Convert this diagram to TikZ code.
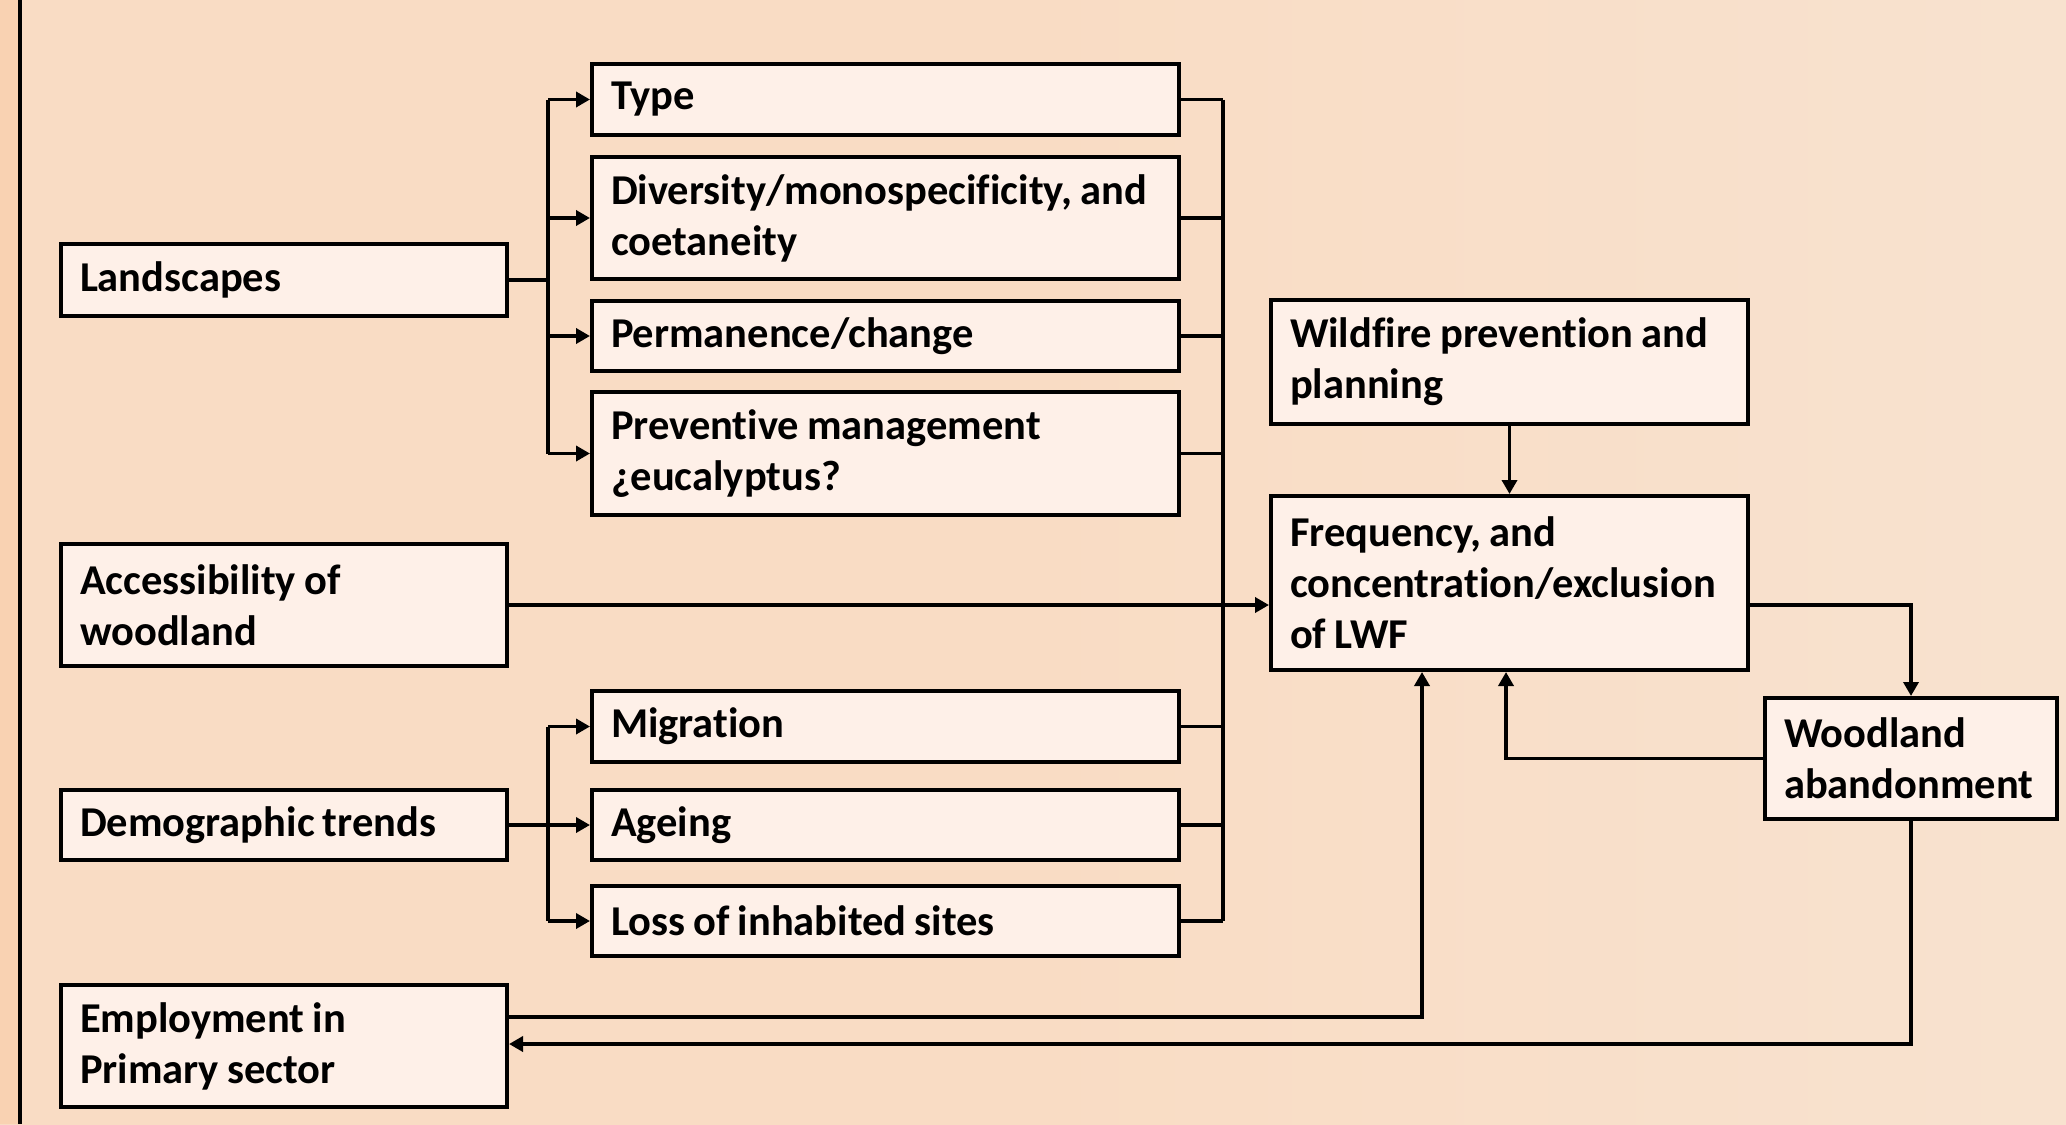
\documentclass[tikz,border=0pt]{standalone}
\usepackage{fontspec}
\setmainfont{Carlito}[Ligatures={NoCommon,NoRequired,NoContextual}]
\usetikzlibrary{arrows.meta}
\definecolor{bgpeach}{HTML}{F9DCC4}
\definecolor{bgpeach2}{HTML}{F8E2CF}
\definecolor{strip}{HTML}{F9D2B2}
\definecolor{boxfill}{HTML}{FEF0E8}
\newcommand{\tightspace}{\spaceskip=8.2pt\relax}
\tikzset{
  fbox/.style={draw=black, line width=4pt, fill=boxfill, anchor=north west,
    inner xsep=19pt, inner ysep=0pt, align=left,
    font=\fontsize{42.5}{51}\selectfont\bfseries,
    execute at begin node=\tightspace},
  conn/.style={line width=3.5pt, line join=miter},
  arr/.style={conn, -{Triangle[length=14pt,width=15pt]}},
}
\newcommand{\fb}[6]{% name, x1, y1, x2, y2, text
  \pgfmathsetmacro{\bw}{#4-#2}\pgfmathsetmacro{\bh}{#5-#3}\pgfmathsetmacro{\tw}{#4-#2-38}
  \node[fbox, minimum width=\bw pt, minimum height=\bh pt, text width=\tw pt] (#1) at (#2,#3) {#6};}
\begin{document}
\begin{tikzpicture}[x=1pt,y=-1pt]
\useasboundingbox (0,0) rectangle (2066,1124);
\shade[left color=bgpeach, right color=bgpeach2, middle color=bgpeach] (0,0) rectangle (2066,1124);
\fill[strip] (0,0) rectangle (18,1124);
\draw[line width=4pt] (20,0) -- (20,1124);
% boxes
\fb{land}{59}{242}{505}{314}{Landscapes}
\fb{acc}{59}{542}{505}{664}{Accessibility of\\woodland}
\fb{demo}{59}{788}{505}{858}{Demographic trends}
\fb{emp}{59}{983}{505}{1105}{Employment in\\Primary sector}
\fb{type}{590}{62}{1177}{133}{Type}
\fb{div}{590}{155}{1177}{277}{Diversity/monospecificity, and\\coetaneity}
\fb{perm}{590}{299}{1177}{369}{Permanence/change}
\fb{prev}{590}{390}{1177}{513}{Preventive management\\¿eucalyptus?}
\fb{mig}{590}{689}{1177}{760}{Migration}
\fb{age}{590}{788}{1177}{858}{Ageing}
\fb{loss}{590}{884}{1177}{954}{Loss of inhabited sites}
\fb{wild}{1269}{298}{1746}{422}{Wildfire prevention and\\planning}
\fb{freq}{1269}{494}{1746}{668}{Frequency, and\\concentration/exclusion\\of LWF}
\fb{wood}{1763}{696}{2055}{817}{Woodland\\abandonment}
% left bus (landscapes)
\coordinate (lb1) at (548,0);
\draw[conn] (land.east) -- (land.east -| lb1);
\draw[conn] (lb1 |- type.west) -- (lb1 |- prev.west);
\foreach \t in {type,div,perm,prev}{\draw[arr] (lb1 |- \t.west) -- (\t.west);}
% left bus (demographic)
\draw[conn] (demo.east) -- (demo.east -| lb1);
\draw[conn] (lb1 |- mig.west) -- (lb1 |- loss.west);
\foreach \t in {mig,age,loss}{\draw[arr] (lb1 |- \t.west) -- (\t.west);}
% right bus
\coordinate (rb) at (1223,0);
\draw[conn] (rb |- type.east) -- (rb |- loss.east);
\foreach \t in {type,div,perm,prev,mig,age,loss}{\draw[conn] (\t.east) -- (\t.east -| rb);}
% accessibility -> frequency
\draw[arr] (acc.east) -- (acc.east -| freq.west);
% wildfire -> frequency
\draw[arr] (wild.south) -- (freq.north);
% frequency -> woodland
\coordinate (fo) at (freq.east |- acc.east);
\draw[arr] (fo) -| (wood.north);
% woodland -> frequency
\coordinate (fx) at (1506,0);
\draw[arr] (wood.west) -| (fx |- freq.south);
% employment -> frequency
\coordinate (ex) at (1422,1017);
\draw[arr] (emp.east |- ex) -| (ex |- freq.south);
% woodland -> employment
\coordinate (wy) at (0,1044);
\draw[arr] (wood.south) |- (emp.east |- wy);
\end{tikzpicture}
\end{document}
